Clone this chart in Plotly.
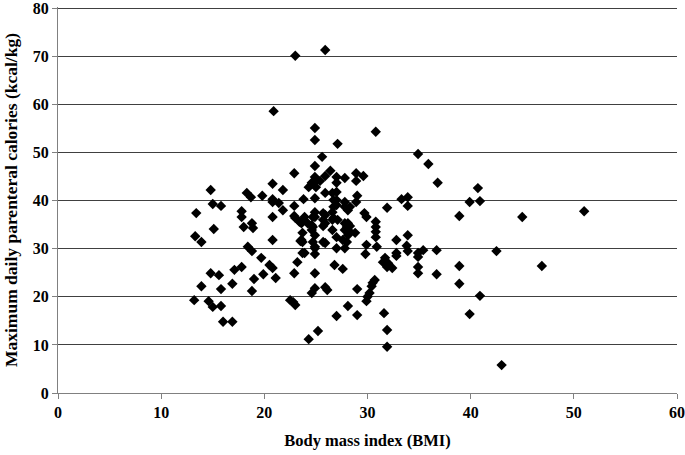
import plotly.graph_objects as go

bmi = [
    14.8, 15.0, 15.8, 13.4, 15.1, 13.3, 13.9, 14.8, 15.6, 13.9,
    15.8, 13.2, 14.6, 15.0, 15.8, 16.0, 16.9, 16.9, 17.1, 17.8,
    19.0, 18.8, 19.9, 21.1, 18.4, 18.8, 19.7, 20.5, 20.8, 17.8,
    17.8, 18.0, 18.8, 18.9, 18.3, 18.7, 19.8, 20.8, 20.8, 20.8,
    20.8, 20.9, 23.0, 25.9, 24.9, 24.9, 27.1, 30.8, 25.6, 24.9,
    22.9, 26.4, 25.9, 24.9, 24.9, 25.4, 27.0, 27.0, 27.8, 28.9,
    29.6, 28.9, 21.8, 24.3, 20.8, 21.4, 21.8, 22.9, 23.8, 24.9,
    25.9, 27.0, 27.0, 26.7, 27.8, 27.8, 29.0, 28.9, 28.3, 31.9,
    22.9, 23.4, 24.9, 25.9, 26.7, 27.8, 29.7, 29.9, 30.8, 30.8,
    30.8, 30.8, 29.9, 30.9, 23.7, 23.6, 24.7, 27.0, 28.0, 28.3,
    28.8, 27.6, 25.9, 24.9, 23.5, 29.8, 27.8, 27.0, 24.9, 23.7,
    23.2, 22.9, 24.9, 26.8, 27.6, 29.0, 24.9, 24.6, 25.9, 26.1,
    22.5, 22.8, 23.0, 30.7, 30.5, 30.4, 30.2, 29.9, 28.1, 29.0,
    27.0, 31.6, 31.9, 25.2, 24.3, 31.9, 31.7, 32.0, 34.9, 35.9,
    36.8, 40.7, 39.9, 40.9, 33.3, 33.9, 33.9, 38.9, 45.0, 32.8,
    33.9, 33.8, 32.8, 32.8, 33.9, 34.9, 35.4, 34.9, 36.7, 42.5,
    31.5, 31.9, 32.4, 34.9, 34.9, 36.7, 38.9, 38.9, 40.9, 39.9,
    51.0, 46.9, 43.0, 24.6, 25.0, 26.6, 26.7, 23.0, 23.9, 24.7,
    25.7, 23.6, 24.6, 25.7, 28.1, 27.0, 27.1, 28.1, 28.3, 24.9,
    25.7, 26.6, 26.6, 25.9, 24.2, 24.6, 24.9, 24.7, 25.7, 26.6,
    23.7, 23.9, 24.9, 27.8, 28.1, 28.0, 30.0,
]

calories = [
    42.2, 39.3, 38.9, 37.4, 34.1, 32.6, 31.4, 24.9, 24.5, 22.2,
    21.6, 19.3, 19.1, 17.9, 18.1, 14.8, 14.8, 22.7, 25.6, 26.2,
    23.7, 21.2, 24.7, 23.9, 30.4, 29.5, 28.1, 26.6, 26.0, 37.8,
    36.6, 34.5, 35.3, 34.3, 41.6, 40.7, 41.0, 43.5, 39.7, 36.6,
    31.8, 58.6, 70.1, 71.3, 55.1, 52.6, 51.8, 54.3, 49.1, 47.2,
    45.7, 46.2, 45.1, 44.9, 43.9, 44.1, 44.9, 43.7, 44.7, 45.7,
    45.1, 44.1, 42.2, 42.8, 40.3, 39.5, 38.0, 38.9, 40.3, 40.5,
    41.6, 41.8, 40.1, 38.7, 39.7, 38.7, 41.0, 39.7, 38.7, 38.5,
    36.8, 35.6, 36.6, 37.0, 36.4, 35.3, 37.4, 36.6, 35.6, 34.5,
    33.5, 32.4, 30.8, 30.4, 33.3, 31.8, 34.5, 32.4, 34.5, 33.5,
    33.3, 31.8, 31.2, 30.4, 31.6, 28.9, 30.1, 30.1, 30.1, 29.1,
    27.2, 24.9, 24.9, 26.6, 25.8, 21.6, 21.8, 20.8, 22.0, 21.4,
    19.3, 18.9, 18.3, 23.5, 22.9, 22.2, 20.8, 19.1, 18.1, 16.2,
    16.0, 16.6, 13.1, 12.9, 11.2, 9.6, 28.1, 27.0, 49.7, 47.6,
    43.7, 42.6, 39.7, 39.9, 40.3, 40.7, 38.9, 36.8, 36.6, 31.8,
    32.8, 30.6, 29.1, 28.5, 29.5, 29.1, 29.7, 28.3, 29.7, 29.5,
    27.2, 26.2, 26.0, 26.2, 24.9, 24.7, 26.4, 22.7, 20.2, 16.4,
    37.8, 26.4, 5.8, 43.7, 42.8, 41.6, 40.1, 36.4, 36.6, 36.6,
    36.0, 35.3, 34.9, 34.7, 38.0, 39.1, 36.0, 35.3, 34.7, 37.6,
    37.4, 37.6, 36.0, 35.3, 35.3, 33.9, 32.8, 31.4, 31.4, 33.9,
    31.4, 29.1, 28.9, 33.9, 32.8, 31.4, 20.0,
]

x_ticks = [0, 10, 20, 30, 40, 50, 60]
y_ticks = [0, 10, 20, 30, 40, 50, 60, 70, 80]

font_family = "Liberation Serif, Times New Roman, serif"

fig = go.Figure()
fig.add_trace(go.Scatter(
    x=bmi, y=calories, mode="markers",
    marker=dict(symbol="diamond", size=8, color="black", line=dict(width=0)),
    showlegend=False,
))

fig.update_layout(
    width=685, height=455,
    margin=dict(l=58, r=8, t=7, b=62),
    paper_bgcolor="white", plot_bgcolor="white",
    font=dict(family=font_family, size=16, color="black"),
)
fig.update_xaxes(
    range=[0, 60], tickvals=x_ticks, ticktext=[f"<b>{v}</b>" for v in x_ticks],
    showgrid=False, zeroline=False, automargin=False, ticklabeloverflow="allow",
    showline=True, linecolor="#808080", linewidth=1,
    ticks="outside", ticklen=5, tickcolor="#808080",
    title=dict(text="<b>Body mass index (BMI)</b>", font=dict(size=16.5), standoff=14),
    tickfont=dict(size=16),
)
fig.update_yaxes(
    range=[0, 80.25], tickvals=y_ticks, ticktext=[f"<b>{v}</b>" for v in y_ticks],
    showgrid=True, gridcolor="#404040", gridwidth=1, zeroline=False, automargin=False,
    ticklabeloverflow="allow",
    showline=True, linecolor="#808080", linewidth=1,
    ticks="outside", ticklen=5, tickcolor="#808080",
    title=dict(text="<b>Maximum daily parenteral calories (kcal/kg)</b>", font=dict(size=17.5), standoff=10),
    tickfont=dict(size=16),
)

fig.write_html("out.html", config={"displayModeBar": False},
               post_script="document.body.style.margin='0';")
